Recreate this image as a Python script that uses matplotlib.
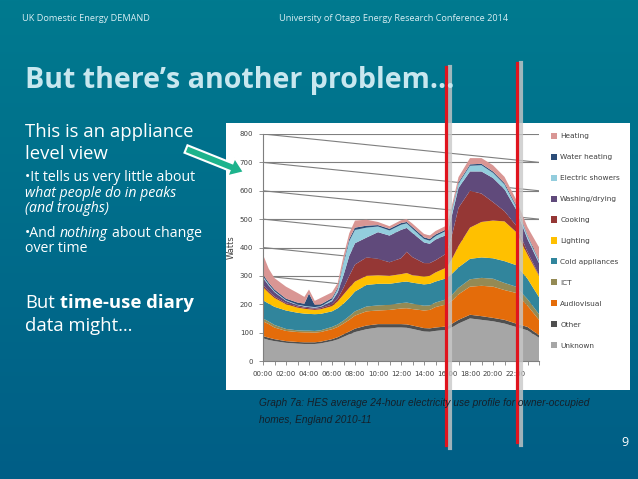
import numpy as np
import matplotlib.pyplot as plt
from matplotlib.patches import Rectangle, FancyArrow
from matplotlib.lines import Line2D

# HES average 24-hour profile, values in Watts
hours = [0, 0.5, 1, 2, 3, 3.6, 4, 4.5, 5, 6, 6.5, 7, 7.5, 8, 9, 10, 11, 12, 12.5, 13,
         14, 14.5, 15, 16, 16.5, 17, 18, 19, 20, 21, 22, 23, 24]

unknown = [80, 74, 70, 64, 61, 60, 60, 60, 62, 70, 76, 85, 94, 102, 112, 118, 118, 118, 117, 113,
           104, 103, 106, 110, 120, 132, 150, 145, 140, 132, 120, 108, 82]
other = [8, 8, 7, 6, 6, 6, 6, 6, 6, 7, 8, 9, 10, 12, 13, 12, 12, 12, 12, 12,
         12, 12, 12, 12, 13, 13, 13, 13, 12, 13, 12, 12, 9]
audiovisual = [52, 48, 41, 36, 35, 35, 35, 34, 34, 35, 36, 38, 41, 46, 50, 48, 50, 55, 57, 58,
               62, 65, 72, 78, 82, 90, 99, 107, 110, 105, 108, 75, 54]
ict = [10, 9, 9, 7, 6, 6, 6, 6, 6, 8, 9, 10, 13, 15, 17, 18, 18, 19, 20, 19,
       17, 16, 16, 18, 21, 23, 26, 28, 28, 25, 22, 23, 20]
cold = [64, 63, 64, 65, 62, 60, 59, 59, 58, 55, 57, 60, 64, 70, 76, 76, 74, 74, 74, 74,
        75, 76, 74, 74, 74, 72, 72, 72, 72, 77, 76, 72, 60]
lighting = [46, 38, 31, 22, 18, 17, 16, 15, 16, 18, 24, 32, 36, 35, 32, 30, 28, 28, 30, 26,
            28, 28, 32, 38, 55, 75, 110, 125, 133, 140, 117, 85, 75]
cooking = [8, 6, 5, 4, 4, 4, 4, 4, 4, 6, 10, 24, 42, 60, 65, 58, 48, 56, 75, 64,
           47, 45, 43, 50, 90, 135, 130, 100, 65, 36, 23, 10, 3]
washing = [25, 20, 16, 8, 5, 4, 4, 4, 5, 12, 22, 44, 70, 75, 70, 94, 94, 100, 84, 85,
           73, 68, 73, 65, 70, 70, 68, 78, 85, 77, 57, 45, 42]
showers = [5, 4, 3, 2, 2, 2, 2, 2, 2, 5, 12, 43, 52, 47, 35, 20, 18, 18, 16, 15,
           12, 11, 12, 15, 17, 15, 20, 22, 18, 17, 10, 10, 7]
water_heating = [7, 6, 6, 6, 7, 8, 46, 8, 6, 6, 5, 5, 8, 8, 7, 5, 6, 6, 5, 6,
                 6, 6, 6, 5, 5, 5, 5, 5, 5, 5, 5, 4, 4]
heating = [70, 49, 40, 42, 34, 24, 14, 14, 23, 20, 16, 20, 20, 25, 21, 11, 9, 10, 10, 12,
           12, 12, 12, 13, 13, 18, 22, 20, 22, 22, 20, 28, 45]

labels = ['Unknown', 'Other', 'Audiovisual', 'ICT', 'Cold appliances', 'Lighting',
          'Cooking', 'Washing/drying', 'Electric showers', 'Water heating', 'Heating']
colors = ['#a6a6a6', '#4f4f4f', '#e46c0a', '#948a54', '#31859c', '#ffc000',
          '#953735', '#604a7b', '#93cddd', '#2c4d78', '#d99694']
series = [unknown, other, audiovisual, ict, cold, lighting, cooking, washing,
          showers, water_heating, heating]

tick_hours = list(range(0, 24, 2))
tick_labels = ['%02d:00' % h for h in tick_hours]

W, H = 638, 479
fig = plt.figure(figsize=(W / 100, H / 100), dpi=100)
renderer = fig.canvas.get_renderer()

# slide background
bg = fig.add_axes([0, 0, 1, 1], zorder=0)
grad = np.linspace(0, 1, 256)[:, None]
top_c = np.array([0, 122, 143]) / 255
bot_c = np.array([0, 94, 134]) / 255
img = top_c[None, None, :] * (1 - grad[:, :, None]) + bot_c[None, None, :] * grad[:, :, None]
bg.imshow(img, aspect='auto', extent=[0, W, H, 0])
bg.add_patch(Rectangle((226, 123), 404, 267, facecolor='white', edgecolor='none'))
bg.set_xlim(0, W)
bg.set_ylim(H, 0)
bg.axis('off')

# chart
ax = fig.add_axes([263 / W, 1 - 361 / H, 276 / W, 227 / H], zorder=1)
ax.set_facecolor('none')
for k in range(100, 900, 100):
    ax.axhline(k, color='#7f7f7f', lw=0.8, zorder=0)
for k in range(300, 900, 100):
    ax.plot([0, 24], [k, k - 100], color='#7f7f7f', lw=0.8, zorder=0)
ax.stackplot(hours, *series, colors=colors, labels=labels, linewidth=0, zorder=2)
ax.set_xlim(0, 24)
ax.set_ylim(0, 800)
ax.set_yticks(range(0, 900, 100))
ax.set_yticklabels([str(v) for v in range(0, 900, 100)], fontsize=5, color='#404040')
ax.set_xticks(tick_hours)
ax.set_xticklabels(tick_labels, fontsize=5, color='#404040')
ax.set_xticks(range(0, 25), minor=True)
ax.tick_params(axis='both', which='both', color='#7f7f7f', length=3, width=0.6, pad=4)
for s in ['top', 'right']:
    ax.spines[s].set_visible(False)
for s in ['left', 'bottom']:
    ax.spines[s].set_color('#7f7f7f')
    ax.spines[s].set_linewidth(0.8)
ax.set_ylabel('Watts', fontsize=6, color='#404040', labelpad=3)

h, l = ax.get_legend_handles_labels()
leg = ax.legend(h[::-1], l[::-1], loc='upper left', bbox_to_anchor=(547 / W, 1 - 129 / H),
                bbox_transform=fig.transFigure, frameon=False, fontsize=5.3,
                labelspacing=1.95, handlelength=0.9, handleheight=0.9, handletextpad=0.4,
                borderpad=0)
for t in leg.get_texts():
    t.set_color('#404040')

# overlay in pixel coordinates
ov = fig.add_axes([0, 0, 1, 1], zorder=5)
ov.set_xlim(0, W)
ov.set_ylim(H, 0)
ov.axis('off')
ov.patch.set_visible(False)


def text_width(s, props):
    t = ov.text(0, 0, s, **props)
    w = t.get_window_extent(renderer).width
    t.remove()
    return w


def runs(x, y, parts, base):
    # draw words with mixed styles one after the other on a line
    space = text_width('x x', base) - text_width('xx', base)
    for i, (s, extra) in enumerate(parts):
        props = dict(base, **extra)
        t = ov.text(x, y, s, **props)
        x += t.get_window_extent(renderer).width + space


head_c = '#d8eef3'
ov.text(22, 21, 'UK Domestic Energy DEMAND', fontsize=6.6, color=head_c, family='Open Sans')
ov.text(279, 21, 'University of Otago Energy Research Conference 2014', fontsize=6.6,
        color=head_c, family='Open Sans')
ov.text(25, 88, 'But there\u2019s another problem\u2026', fontsize=20.6, fontweight='bold',
        color='#c8e7ef', family='Open Sans')

big = dict(fontsize=13.3, color='white', family='Open Sans')
small = dict(fontsize=10.2, color='white', family='Open Sans')
ov.text(25, 137, 'This is an appliance', **big)
ov.text(25, 159, 'level view', **big)
ov.text(25, 181, '\u2022It tells us very little about', **small)
ov.text(25, 197, 'what people do in peaks', style='italic', **small)
ov.text(25, 212, '(and troughs)', style='italic', **small)
runs(25, 237, [('\u2022And', {}), ('nothing', {'style': 'italic'}), ('about change', {})], small)
ov.text(25, 252, 'over time', **small)
runs(25, 308, [('But', {}), ('time-use diary', {'fontweight': 'bold'})], big)
ov.text(25, 331, 'data might\u2026', **big)

ov.text(628, 446, '9', fontsize=9, color='white', ha='right', family='Open Sans')

cap = dict(fontsize=7.3, style='italic', color='#15202a',
           family=['Liberation Sans Narrow', 'Liberation Sans'])
ov.text(259, 406, 'Graph 7a: HES average 24-hour electricity use profile for owner-occupied', **cap)
ov.text(259, 423, 'homes, England 2010-11', **cap)

# green arrow
ov.add_patch(FancyArrow(186, 149, 45, 18, width=8, head_width=20, head_length=14,
                        length_includes_head=False, facecolor='#1db38c',
                        edgecolor='white', lw=1.5))

# red marker lines with shadow
for x, y0, y1 in [(446, 67, 445), (517, 63, 442)]:
    ov.add_line(Line2D([x + 4, x + 4], [y0, y1 + 3], color='#c8c8c8', lw=3, alpha=0.8))
    ov.add_line(Line2D([x, x], [y0, y1], color='#e0141e', lw=2.3))

fig.savefig('out.png', dpi=100)
